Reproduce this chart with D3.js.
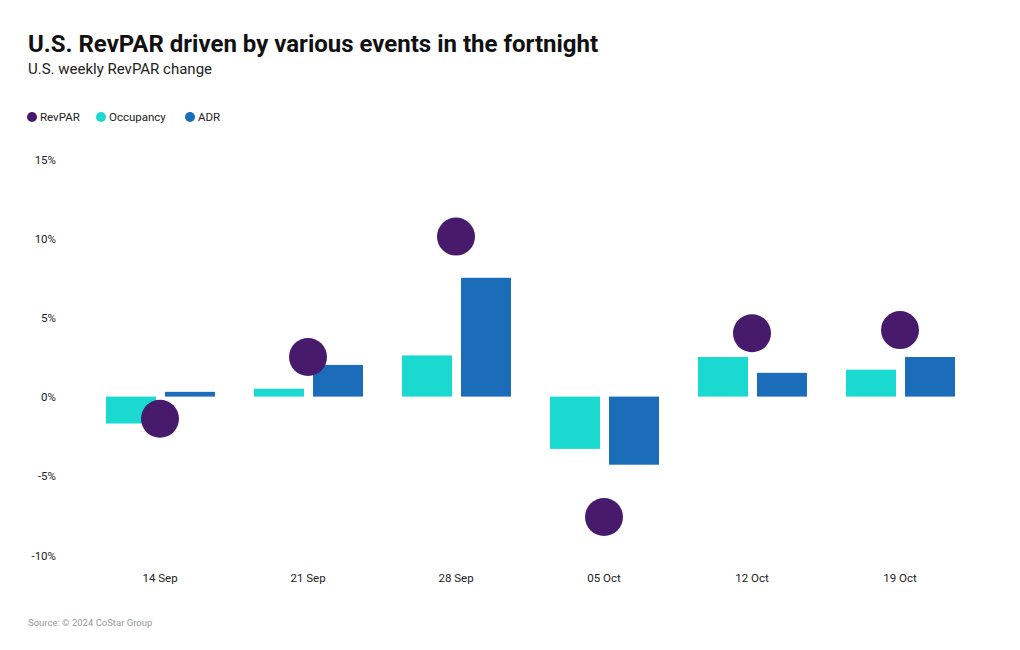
<!DOCTYPE html>
<html><head><meta charset="utf-8">
<script src="https://cdn.jsdelivr.net/npm/d3@7"></script>
<style>body{margin:0;background:#fff;font-family:Roboto,"Noto Sans",sans-serif;}</style>
</head><body><svg id="c" width="1020" height="650"></svg>
<script>
const categories = ["14 Sep","21 Sep","28 Sep","05 Oct","12 Oct","19 Oct"];
const revpar = [-1.4, 2.5, 10.1, -7.6, 4.0, 4.2];
const occupancy = [-1.7, 0.5, 2.6, -3.3, 2.5, 1.7];
const adr = [0.3, 2.0, 7.5, -4.3, 1.5, 2.5];
const yTicks = [-10, -5, 0, 5, 10, 15];
const seriesNames = ["RevPAR","Occupancy","ADR"];
const colors = {RevPAR:"#481a6c", Occupancy:"#19d9d1", ADR:"#1b6cb9"};

const svg = d3.select("#c");
const font = "Roboto, 'Noto Sans', sans-serif";

svg.append("text").attr("x",28).attr("y",52).text("U.S. RevPAR driven by various events in the fortnight")
  .attr("font-family",font).attr("font-weight",700).attr("font-size",24).attr("fill","#111");
svg.append("text").attr("x",28).attr("y",74).text("U.S. weekly RevPAR change")
  .attr("font-family",font).attr("font-size",15).attr("fill","#222");

// legend
const legX = [32, 101, 190];
seriesNames.forEach((n,i)=>{
  const g = svg.append("g").attr("transform",`translate(${legX[i]},117)`);
  g.append("circle").attr("r",5).attr("fill",colors[n]);
  g.append("text").attr("x",8).attr("y",4).text(n).attr("font-family",font).attr("font-size",11.5).attr("fill","#222");
});

const y = d3.scaleLinear().domain([-10,15]).range([555,159]);
const x = d3.scaleBand().domain(categories).range([86,974]);
const xin = d3.scaleBand().domain(["Occupancy","ADR"]).range([-54,55]).paddingInner(0.1525).paddingOuter(0);

const yAxis = svg.append("g").attr("transform","translate(56,0)")
  .call(d3.axisLeft(y).tickValues(yTicks).tickSize(0).tickFormat(d=>d+"%"));
yAxis.select(".domain").remove();
yAxis.selectAll("text").attr("font-family",font).attr("font-size",11.5).attr("fill","#222").attr("dy","0.35em").attr("x",0);

const xAxis = svg.append("g").attr("transform","translate(0,578)")
  .call(d3.axisBottom(x).tickSize(0));
xAxis.select(".domain").remove();
xAxis.selectAll("text").attr("font-family",font).attr("font-size",11.5).attr("fill","#222").attr("dy","0.35em").attr("y",0);

const data = categories.map((c,i)=>({c, Occupancy:occupancy[i], ADR:adr[i], RevPAR:revpar[i]}));
const cx = c => x(c) + x.bandwidth()/2;

["Occupancy","ADR"].forEach(k=>{
  svg.append("g").selectAll("rect").data(data).join("rect")
    .attr("x", d=>cx(d.c)+xin(k))
    .attr("width", xin.bandwidth())
    .attr("y", d=>y(Math.max(0,d[k])))
    .attr("height", d=>Math.abs(y(d[k])-y(0)))
    .attr("fill", colors[k]);
});

svg.append("g").selectAll("circle").data(data).join("circle")
  .attr("cx", d=>cx(d.c)).attr("cy", d=>y(d.RevPAR)).attr("r",19)
  .attr("fill", colors.RevPAR);

svg.append("text").attr("x",28).attr("y",626).text("Source: © 2024 CoStar Group")
  .attr("font-family",font).attr("font-size",9.5).attr("fill","#999");
</script></body></html>
